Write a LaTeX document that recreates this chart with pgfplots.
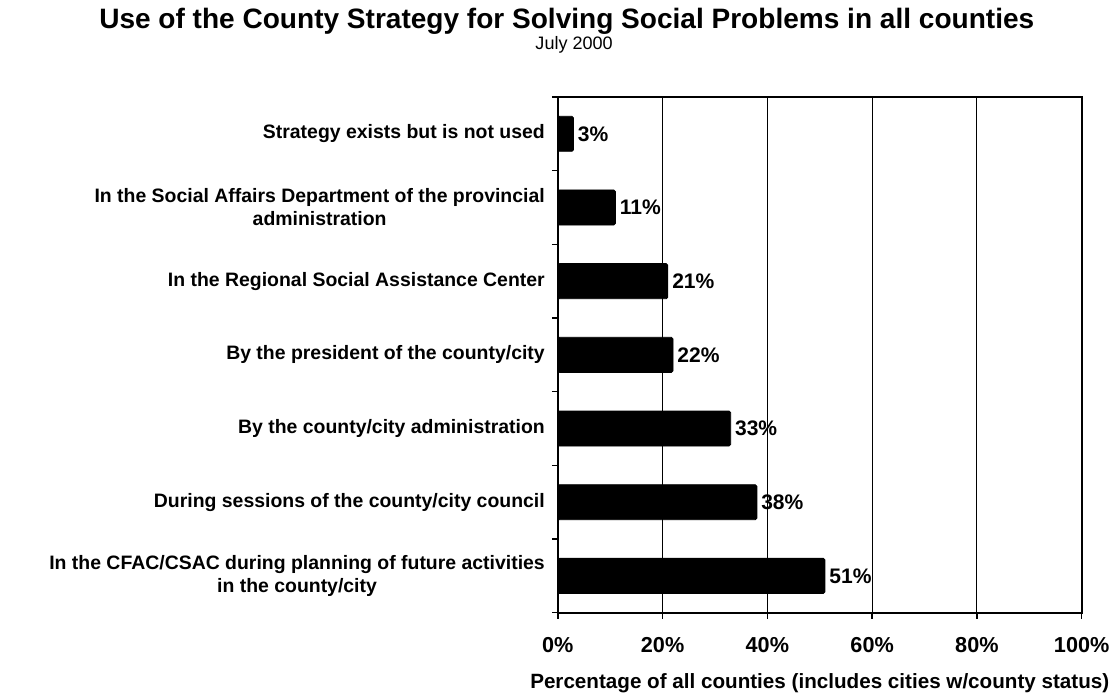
\documentclass[border=0pt]{standalone}
\usepackage{pgfplots}
\pgfplotsset{compat=1.18}
\usepackage{fontspec}
\setmainfont{Liberation Sans}
\begin{document}
\begin{tikzpicture}
\begin{axis}[
  xbar,
  scale only axis,
  width=261.5pt, height=257.5pt,
  xmin=0, xmax=100, ymin=-0.5, ymax=6.5,
  bar width=17.5pt,
  axis line style={line width=1.1pt},
  xtick={0,20,...,100},
  xticklabel={\pgfmathprintnumber{\tick}\%},
  ytick={-0.5,0.5,...,6.5},
  yticklabels={},
  extra y ticks={0,...,6},
  extra y tick labels={
    {In the CFAC/CSAC during planning of future activities\\in the county/city},
    {During sessions of the county/city council},
    {By the county/city administration},
    {By the president of the county/city},
    {In the Regional Social Assistance Center},
    {In the Social Affairs Department of the provincial\\administration},
    {Strategy exists but is not used}},
  extra y tick style={major tick length=0pt, yticklabel style={align=center, font=\bfseries\fontsize{9.7}{11.5}\selectfont, xshift=-3pt}},
  xticklabel style={font=\bfseries\fontsize{10.8}{12}\selectfont, yshift=-6pt},
  /pgf/number format/assume math mode=true,
  major tick length=3pt,
  tick style={black, line width=0.7pt},
  tick align=outside,
  tick pos=left,
  xmajorgrids,
  major grid style={black, line width=0.5pt},
  xlabel={Percentage of all counties (includes cities w/county status)},
  xlabel style={font=\bfseries\fontsize{10.3}{12}\selectfont, yshift=-3.5pt},
  nodes near coords={\pgfmathprintnumber{\pgfplotspointmeta}\%},
  point meta=x,
  nodes near coords style={font=\bfseries\fontsize{10.5}{12}\selectfont, anchor=west, inner sep=2pt},
  clip=false,
]
\addplot[fill=black, draw=black, rounded corners=0.8pt] coordinates {
  (51,0) (38,1) (33,2) (22,3) (21,4) (11,5) (3,6)};
\node[font=\bfseries\fontsize{14}{16}\selectfont] at (axis description cs:0.017,1.146) {Use of the County Strategy for Solving Social Problems in all counties};
\node[font=\fontsize{9}{10}\selectfont] at (axis description cs:0.031,1.101) {July 2000};
\path (axis description cs:-1.065,1.188) (axis description cs:1.0,-0.161);
\end{axis}
\end{tikzpicture}
\end{document}
